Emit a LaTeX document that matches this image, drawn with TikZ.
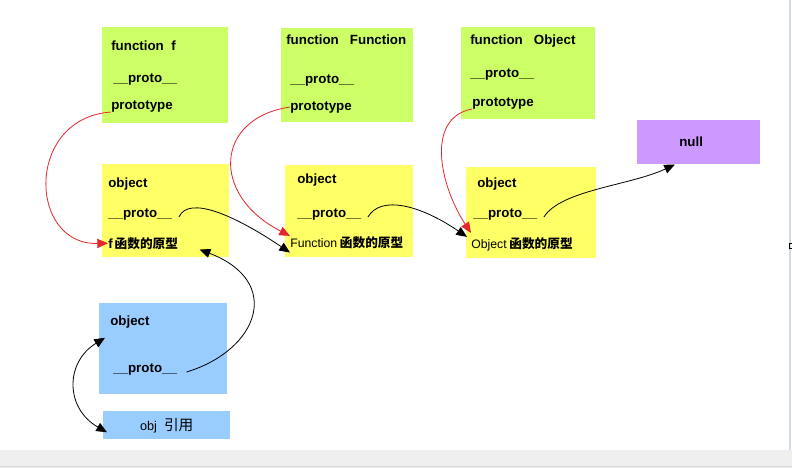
\documentclass[tikz,border=0pt]{standalone}
\usepackage{fontspec}
\setmainfont{Liberation Sans}
\newfontfamily\cjk{Noto Sans CJK SC}
\usetikzlibrary{arrows.meta}
\definecolor{fgreen}{HTML}{CCFF66}
\definecolor{pyellow}{HTML}{FFFF66}
\definecolor{oblue}{HTML}{99CCFF}
\definecolor{npurple}{HTML}{CC99FF}
\definecolor{linkred}{HTML}{E4262C}
\definecolor{barbg}{HTML}{EFEFEF}
\definecolor{barline}{HTML}{D8D8D8}
\definecolor{edgegray}{HTML}{D5D9E3}
\tikzset{
  box/.style={anchor=north west, inner sep=0pt, draw=none},
  lbl/.style={anchor=base west, inner sep=0pt, font=\fontsize{10}{12}\selectfont\bfseries},
  cnlbl/.style={anchor=base west, inner sep=0pt, font=\fontsize{9.2}{11}\selectfont},
  protolink/.style={linkred, line width=0.6pt, ->},
  chainlink/.style={black, line width=0.6pt, ->},
}
\newcommand{\zh}[1]{{\cjk\bfseries\fontsize{9.5}{11}\selectfont #1}}

\begin{document}
\begin{tikzpicture}[x=0.75pt, y=-0.75pt, >={Triangle[length=8pt,width=6.8pt]}]
  \useasboundingbox (0,0) rectangle (792,468);
  \fill[white] (0,0) rectangle (792,468);
  \fill[barbg] (0,450) rectangle (792,468);
  \draw[barline] (0,466) -- (792,466);
  \fill[edgegray] (788.5,0) rectangle (790.5,450);
  \draw[black, line width=0.8pt] (789.5,243.5) rectangle (795,248.5);

  \node[box, fill=fgreen, minimum width=94.5pt, minimum height=72pt] (fbox) at (102,27) {};
  \node[box, fill=fgreen, minimum width=99pt, minimum height=70.5pt] (Fbox) at (281,28) {};
  \node[box, fill=fgreen, minimum width=100.5pt, minimum height=69pt] (Obox) at (461,27) {};
  \node[box, fill=pyellow, minimum width=95.25pt, minimum height=69.75pt] (fprotobox) at (102,164) {};
  \node[box, fill=pyellow, minimum width=96pt, minimum height=69pt] (Fprotobox) at (285,165) {};
  \node[box, fill=pyellow, minimum width=97.5pt, minimum height=68.25pt] (Oprotobox) at (466,167) {};
  \node[box, fill=npurple, minimum width=92.25pt, minimum height=33pt] (nullbox) at (637,120) {};
  \node[box, fill=oblue, minimum width=96pt, minimum height=68.25pt] (objbox) at (99,303) {};
  \node[box, fill=oblue, minimum width=95.25pt, minimum height=21pt,
        font=\fontsize{9.5}{11}\selectfont] (refbox) at (103,411)
        {obj\ \ {\cjk\fontsize{11}{12}\selectfont 引用}};

  \node[lbl] (fname) at (111,50) {function\ \ f};
  \node[lbl] (fproto) at (113,82) {\_\_proto\_\_};
  \node[lbl] (fptype) at (111,109) {prototype};
  \node[lbl] (Fname) at (286,44) {function\ \ \ Function};
  \node[lbl] (Fproto) at (290,83) {\_\_proto\_\_};
  \node[lbl] (Fptype) at (290,110) {prototype};
  \node[lbl] (Oname) at (470,44) {function\ \ \ Object};
  \node[lbl] (Oproto) at (470,77) {\_\_proto\_\_};
  \node[lbl] (Optype) at (472,106) {prototype};

  \node[lbl] (fobj) at (108,187) {object};
  \node[lbl] (fobjproto) at (108,217) {\_\_proto\_\_};
  \node[lbl] (fpt) at (108,248) {f\hspace{1.5pt}\zh{函数的原型}};
  \node[lbl] (Fobj) at (297,183) {object};
  \node[lbl] (Fobjproto) at (297,217) {\_\_proto\_\_};
  \node[cnlbl] (Fpt) at (290,247) {Function\hspace{2pt}\zh{函数的原型}};
  \node[lbl] (Oobj) at (477,187) {object};
  \node[lbl] (Oobjproto) at (473,217) {\_\_proto\_\_};
  \node[cnlbl] (Opt) at (471,248) {Object\hspace{2pt}\zh{函数的原型}};
  \node[lbl] (nulltxt) at (679,146) {null};

  \node[lbl] (bobj) at (110,325) {object};
  \node[lbl] (bproto) at (113,372) {\_\_proto\_\_};

  \draw[protolink] (fptype.south west) .. controls +(-86,6) and +(-80,2) .. (fpt.west);
  \draw[protolink] (Fptype.west) .. controls +(-75,11) and +(-80,-41) .. (Fpt.north west);
  \draw[protolink] (Optype.south west) .. controls +(-47,9) and +(-31,-47) .. ([yshift=3pt]Opt.north west);

  \draw[chainlink] ([xshift=5pt]fobjproto.base east) .. controls +(10,-22) and +(-55,-37) .. ([yshift=-3pt]Fpt.south west);
  \draw[chainlink] ([xshift=5pt]Fobjproto.base east) .. controls +(13,-22) and +(-47,-32) .. ([xshift=-3pt]Opt.north west);
  \draw[chainlink] ([xshift=5pt]Oobjproto.base east) .. controls +(17,-27) and +(-45,21) .. (nullbox.-137);
  \draw[chainlink] ([xshift=7pt]bproto.base east) .. controls +(72,-22) and +(84,32) .. ([xshift=16pt]fpt.south east);
  \draw[chainlink, <->] ([shift={(6,-11)}]objbox.west) .. controls +(-40,24.5) and +(-42,-24) .. ([shift={(4,7)}]refbox.west);
\end{tikzpicture}
\end{document}
